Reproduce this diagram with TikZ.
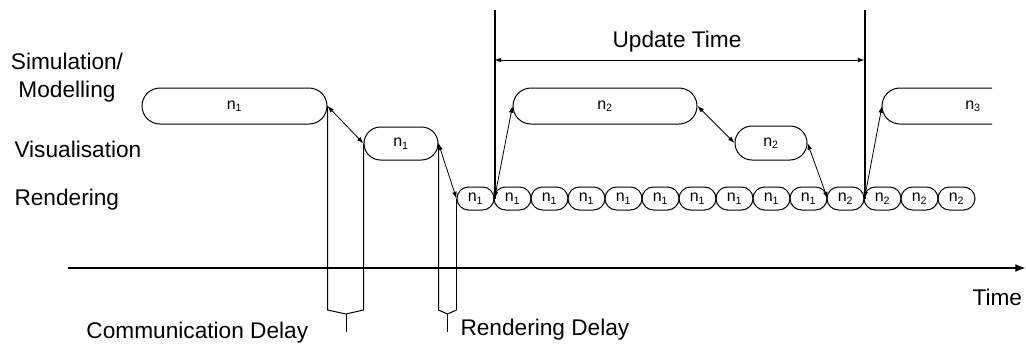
\documentclass[tikz,border=0pt]{standalone}
\usepackage{fontspec}
\setmainfont{Liberation Sans}
\usetikzlibrary{shapes.misc,arrows.meta}

\begin{document}
\begin{tikzpicture}[x=0.75pt,y=-0.75pt,line width=0.75pt,
        lbl/.style={font=\fontsize{17}{21}\selectfont, inner sep=0pt},
        stage/.style={rounded rectangle, draw, inner sep=0pt, font=\fontsize{12}{14}\selectfont},
        frame/.style={stage, minimum width=37*0.75pt, minimum height=23*0.75pt},
        link/.style={{Latex[length=5pt,width=3.5pt]}-{Latex[length=5pt,width=3.5pt]}, line width=0.6pt},
        bar/.style={line width=1.5pt}]
        \useasboundingbox (0,0) rectangle (1026,347);

        % row names
        \node[lbl, align=center, anchor=north] (simlbl) at (67,53) {Simulation/\\Modelling};
        \node[lbl, anchor=base west] (vislbl) at (14,157) {Visualisation};
        \node[lbl, anchor=base west] (renlbl) at (14,205) {Rendering};

        % stages
        \node[stage, minimum width=185*0.75pt, minimum height=36*0.75pt] (s1) at (234.5,106) {n\textsubscript{1}};
        \node[stage, minimum width=74*0.75pt, minimum height=33*0.75pt] (v1) at (401,143.5) {n\textsubscript{1}};
        \node[stage, minimum width=184*0.75pt, minimum height=36*0.75pt] (s2) at (605,106) {n\textsubscript{2}};
        \node[stage, minimum width=72*0.75pt, minimum height=34*0.75pt] (v2) at (771,143) {n\textsubscript{2}};
        \foreach \i in {1,...,14} {
            \ifnum\i<11 \def\k{1}\else\def\k{2}\fi
            \node[frame] (r\i) at ({475.5+37*(\i-1)},198.5) {n\textsubscript{\k}};
        }
        \draw (992,88) -- (900,88) arc[start angle=270, end angle=90, radius=18] -- (992,124);
        \coordinate (s3) at (882,106);
        \node[font=\fontsize{12}{14}\selectfont] (t3) at (973,106) {n\textsubscript{3}};

        % update time
        \coordinate (top) at (0,10);
        \coordinate (upd) at (0,60);
        \draw[bar] (r1.east |- top) -- (r1.east);
        \draw[bar] (r11.east |- top) -- (r11.east);
        \draw[link] (r1.east |- upd) -- (r11.east |- upd);
        \node[lbl, anchor=base] (updlbl) at (677,47) {Update Time};

        \draw[link] (s1.east) -- (v1.west);
        \draw[link] (v1.east) -- (r1.west);
        \draw[link] (r1.east) -- (s2.west);
        \draw[link] (s2.east) -- (v2.west);
        \draw[link] (v2.east) -- (r10.east);
        \draw[link] (r11.east) -- (s3);

        % time axis
        \coordinate (t0) at (68,268);
        \coordinate (t1) at (1026,268);
        \draw[line width=1.5pt, -{Latex[length=8pt,width=6pt]}] (t0) -- (t1);
        \node[lbl, anchor=base west] (timelbl) at (972,305) {Time};

        % delays
        \coordinate (low) at (0,310);
        \coordinate (cd) at (346,314);
        \coordinate (rd) at (447.5,314);
        \draw (s1.east) -- (s1.east |- low) -- (cd) -- (v1.west |- low) -- (v1.west);
        \draw (cd) -- ++(0,18);
        \draw (v1.east) -- (v1.east |- low) -- (rd) -- (r1.west |- low);
        \draw[line width=1.2pt] (r1.west) -- (r1.west |- low);
        \draw (rd) -- ++(0,18);
        \node[lbl, anchor=base west] (cdlbl) at (86,338) {Communication Delay};
        \node[lbl, anchor=base west] (rdlbl) at (460,335) {Rendering Delay};
\end{tikzpicture}
\end{document}
